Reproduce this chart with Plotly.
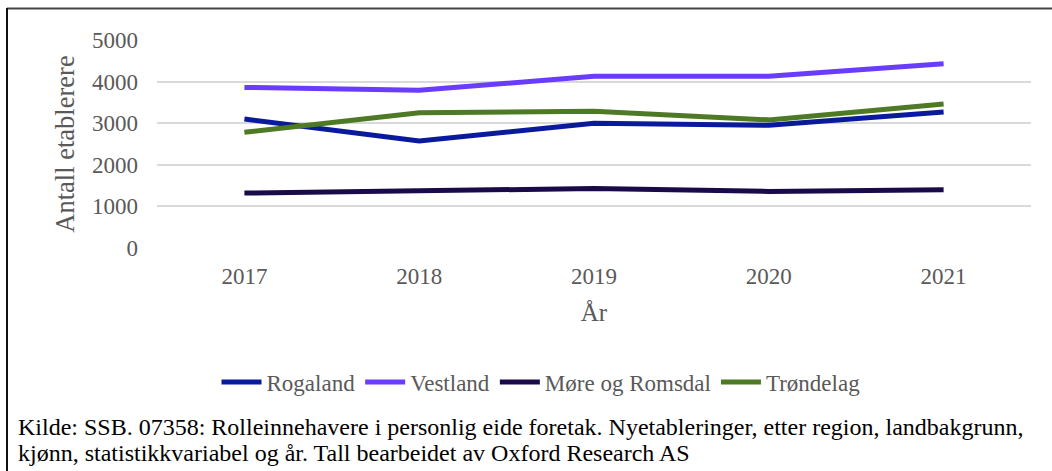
import plotly.graph_objects as go

years = ["2017", "2018", "2019", "2020", "2021"]
rogaland = [3100, 2570, 3000, 2950, 3270]
vestland = [3860, 3790, 4130, 4130, 4430]
more_romsdal = [1320, 1370, 1430, 1360, 1400]
trondelag = [2780, 3250, 3290, 3080, 3460]

series_names = ["Rogaland", "Vestland", "Møre og Romsdal", "Trøndelag"]
series_values = [rogaland, vestland, more_romsdal, trondelag]
series_colors = ["#0a1a9c", "#6a3cff", "#1a0a4a", "#4e7a26"]

y_ticks = [0, 1000, 2000, 3000, 4000, 5000]

caption_lines = [
    "Kilde: SSB. 07358: Rolleinnehavere i personlig eide foretak. Nyetableringer, etter region, landbakgrunn,",
    "kjønn, statistikkvariabel og år. Tall bearbeidet av Oxford Research AS",
]

W, H = 1052, 471
ML, MR, MT, MB = 157, 21, 40, 223
PW = W - ML - MR
PH = H - MT - MB

def px(x):
    return (x - ML) / PW

def py(y):
    return (H - MB - y) / PH

FONT = "Liberation Serif"
GREY = "#595959"

fig = go.Figure()
for name, vals, col in zip(series_names, series_values, series_colors):
    fig.add_trace(go.Scatter(x=years, y=vals, name=name, mode="lines",
                             line=dict(color=col, width=5)))

fig.update_layout(
    width=W, height=H,
    margin=dict(l=ML, r=MR, t=MT, b=MB),
    paper_bgcolor="white", plot_bgcolor="white",
    font=dict(family=FONT, color=GREY, size=23),
    showlegend=True,
    legend=dict(orientation="h", x=px(541), xanchor="center", y=py(382), yanchor="middle",
                font=dict(family=FONT, size=23, color=GREY), itemwidth=40,
                tracegroupgap=0, traceorder="normal"),
    xaxis=dict(type="category", range=[-0.5, 4.5], showgrid=False, zeroline=False,
               showline=False, ticks="", tickfont=dict(size=23, color=GREY),
               ticklabelstandoff=12,
               title=dict(text="År", font=dict(size=25, color=GREY), standoff=15)),
    yaxis=dict(range=[0, 5000], tickvals=y_ticks, showgrid=True, gridcolor="#d9d9d9",
               gridwidth=1.5, zeroline=False, showline=False, ticks="",
               tickfont=dict(size=23, color=GREY), ticklabelstandoff=18,
               title=dict(text="Antall etablerere", font=dict(size=26.5, color=GREY), standoff=9)),
)

# frame lines (top and left)
fig.add_shape(type="line", xref="paper", yref="paper", x0=px(7), x1=px(1052), y0=py(8.5), y1=py(8.5),
              line=dict(color="#444444", width=2))
fig.add_shape(type="line", xref="paper", yref="paper", x0=px(7), x1=px(7), y0=py(8), y1=py(471),
              line=dict(color="#111111", width=2))

for i, line in enumerate(caption_lines):
    fig.add_annotation(
        xref="paper", yref="paper", x=px(16), y=py(427 + 26 * i), xanchor="left", yanchor="middle",
        align="left", showarrow=False, text=line,
        font=dict(family=FONT, size=24, color="black"),
    )

fig.write_html("out.html", config={"displayModeBar": False},
               post_script="document.body.style.margin='0';document.body.style.padding='0';")
